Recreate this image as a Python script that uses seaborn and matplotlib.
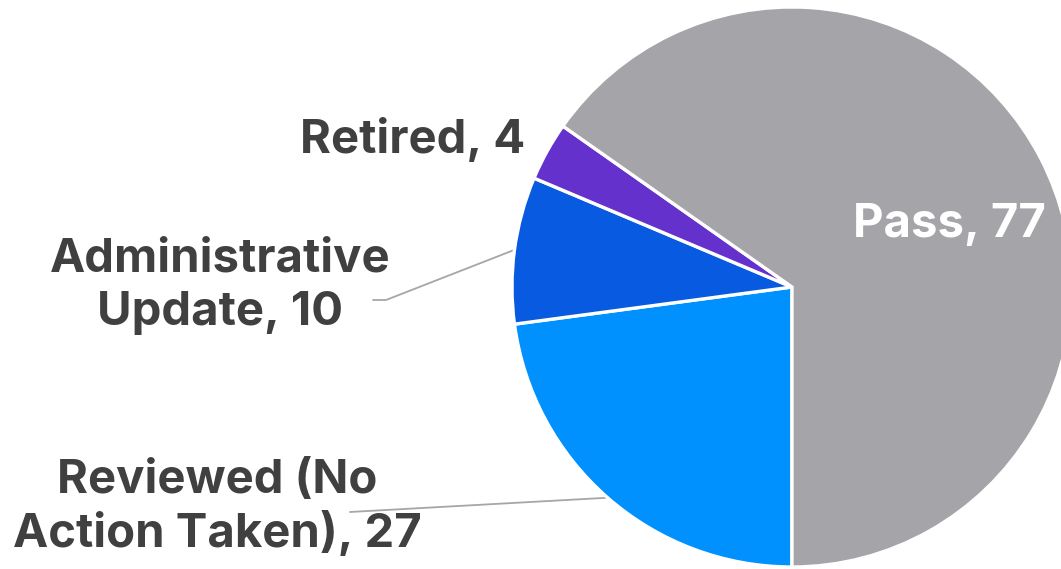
import numpy as np
import matplotlib
matplotlib.use("Agg")
import matplotlib.pyplot as plt
import seaborn as sns

# ---- data ----
categories = ["Reviewed (No\nAction Taken)", "Administrative\nUpdate", "Retired", "Pass"]
values = [27, 10, 4, 77]
colors = ["#0091FF", "#085BE0", "#6531CC", "#A4A4A9"]

sns.set_theme(style="white")
plt.rcParams["font.family"] = ["Inter", "DejaVu Sans"]

W, H = 1061, 569
fig = plt.figure(figsize=(W / 100, H / 100), dpi=100)
ax = fig.add_axes([0, 0, 1, 1])

# pie centre at pixel (792, 287), radius 280 px
cx, cy, R = 792, 287, 280

palette = sns.color_palette(colors)
wedges, _ = ax.pie(values, colors=palette, startangle=-90, counterclock=False,
                   radius=1.0, center=(0, 0),
                   wedgeprops=dict(edgecolor="white", linewidth=2.4),
                   frame=True)
ax.set_xlim(-cx / R, (W - cx) / R)
ax.set_ylim(-(H - cy) / R, cy / R)
ax.axis("off")

txt_col = "#404040"
line_col = "#A6A6A6"
fs = 34
fw = "bold"

def px(x, y):
    return ((x - cx) / R, (cy - y) / R)

def edge_mid(w):
    a = np.deg2rad((w.theta1 + w.theta2) / 2)
    return np.cos(a), np.sin(a)

labels = [f"{c}, {v}" for c, v in zip(categories, values)]

# Reviewed
x, y = px(217, 508)
ax.text(x, y, labels[0], ha="center", va="center", fontsize=fs,
        fontweight=fw, color=txt_col, linespacing=1.22)
ex, ey = edge_mid(wedges[0])
sx, sy = px(350, 512)
ax.plot([sx, ex], [sy, ey], color=line_col, lw=1.3, zorder=0)

# Administrative
x, y = px(220, 286)
ax.text(x, y, labels[1], ha="center", va="center", fontsize=fs,
        fontweight=fw, color=txt_col, linespacing=1.27)
ex, ey = edge_mid(wedges[1])
s0 = px(373, 300)
s1 = px(386, 300)
ax.plot([s0[0], s1[0], ex], [s0[1], s1[1], ey], color=line_col, lw=1.3, zorder=0)

# Retired
x, y = px(525, 153)
ax.text(x, y, labels[2], ha="right", va="baseline", fontsize=fs,
        fontweight=fw, color=txt_col)

# Pass
x, y = px(949, 237)
ax.text(x, y, labels[3], ha="center", va="baseline", fontsize=fs,
        fontweight=fw, color="white")

fig.savefig("out.png", dpi=100)
